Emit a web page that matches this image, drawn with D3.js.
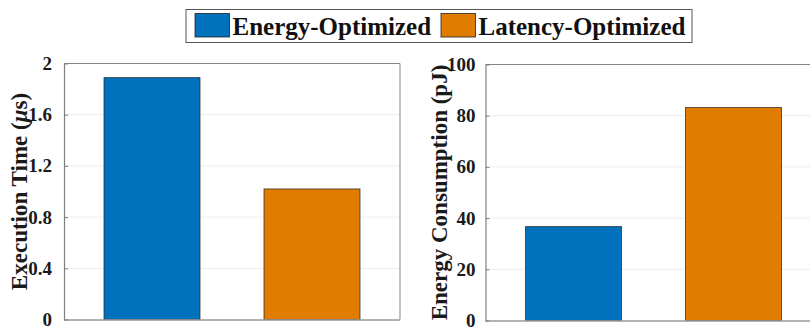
<!DOCTYPE html>
<html>
<head>
<meta charset="utf-8">
<script src="https://cdn.jsdelivr.net/npm/d3@7"></script>
<style>
  html, body { margin: 0; padding: 0; background: #fff; }
  svg { display: block; }
  text { font-family: "Liberation Serif", "Times New Roman", serif; font-weight: bold; }
</style>
</head>
<body>
<svg id="chart" width="810" height="329"></svg>
<script>
// Configurations compared in both panels
const configs = ["Energy-Optimized", "Latency-Optimized"];
const colors = ["#0072BD", "#E07C00"];

// Execution time (µs) per configuration
const execTime = [1.89, 1.02];
const execTicks = [0, 0.4, 0.8, 1.2, 1.6, 2];

// Energy consumption (pJ) per configuration
const energy = [36.7, 83.2];
const energyTicks = [0, 20, 40, 60, 80, 100];

const svg = d3.select("#chart");

function panel(opts) {
  const { left, top, bottom, width, values, ticks, yMax, label, labelX, tickGap, fmt } = opts;
  const g = svg.append("g");

  const x = d3.scaleBand().domain(configs)
    .range([left, left + width]).paddingInner(0.4).paddingOuter(0.25);
  const y = d3.scaleLinear().domain([0, yMax]).range([bottom, top]);

  // grid
  g.selectAll("line.grid").data(ticks.filter(t => t > 0 && t < yMax)).join("line")
    .attr("x1", left).attr("x2", left + width)
    .attr("y1", d => y(d)).attr("y2", d => y(d))
    .attr("stroke", "#ebebeb").attr("stroke-width", 1);

  // bars
  g.selectAll("rect.bar").data(values).join("rect")
    .attr("x", (d, i) => x(configs[i]))
    .attr("width", x.bandwidth())
    .attr("y", d => y(d))
    .attr("height", d => y(0) - y(d))
    .attr("fill", (d, i) => colors[i])
    .attr("stroke", "#222").attr("stroke-opacity", 0.7).attr("stroke-width", 1);

  // box: top and right
  g.append("path")
    .attr("d", `M${left},${top}H${left + width}V${bottom}`)
    .attr("fill", "none").attr("stroke", "#858585").attr("stroke-width", 1);

  // bottom axis line
  g.append("line")
    .attr("x1", left).attr("x2", left + width)
    .attr("y1", bottom + 0.5).attr("y2", bottom + 0.5)
    .attr("stroke", "#9a9a9a").attr("stroke-width", 1.6);

  // y axis
  const ax = g.append("g").attr("transform", `translate(${left},0)`)
    .call(d3.axisLeft(y).tickValues(ticks).tickFormat(fmt).tickSizeInner(-4).tickSizeOuter(0).tickPadding(tickGap + 4));
  ax.select(".domain").attr("stroke", "#808080").attr("stroke-width", 1.2);
  ax.selectAll(".tick line").attr("stroke", "#808080");
  ax.selectAll(".tick text")
    .attr("font-family", "Liberation Serif, Times New Roman, serif")
    .attr("font-weight", "bold").attr("font-size", 19).attr("fill", "#1a1a1a");

  // y label
  const cy = (top + bottom) / 2;
  const t = g.append("text")
    .attr("transform", `translate(${labelX},${cy}) rotate(-90)`)
    .attr("text-anchor", "middle").attr("font-size", 23).attr("fill", "#1a1a1a");
  label(t);
}

panel({
  left: 64, top: 63.5, bottom: 319.5, width: 336,
  values: execTime, ticks: execTicks, yMax: 2, labelX: 27, tickGap: 8,
  fmt: d => d === 0 ? "0" : d === 2 ? "2" : d3.format(".1f")(d),
  label: t => {
    t.append("tspan").text("Execution Time (");
    t.append("tspan").attr("font-style", "italic").text("μ");
    t.append("tspan").text("s)");
  }
});

panel({
  left: 485.5, top: 64.5, bottom: 320.5, width: 336,
  values: energy, ticks: energyTicks, yMax: 100, labelX: 447, tickGap: 6,
  fmt: d3.format("d"),
  label: t => t.text("Energy Consumption (pJ)")
});

// legend
const lg = svg.append("g");
lg.append("rect").attr("x", 186).attr("y", 9.5).attr("width", 506).attr("height", 33)
  .attr("fill", "#fff").attr("stroke", "#555").attr("stroke-width", 1);
const items = [{ x: 195 }, { x: 441 }];
configs.forEach((c, i) => {
  lg.append("rect").attr("x", items[i].x).attr("y", 13.5).attr("width", 34.5).attr("height", 23.5)
    .attr("fill", colors[i]).attr("stroke", "#222").attr("stroke-opacity", 0.8).attr("stroke-width", 1);
  lg.append("text").attr("x", items[i].x + 37.5).attr("y", 35)
    .attr("font-size", 25).attr("fill", "#111").text(c);
});
</script>
</body>
</html>
